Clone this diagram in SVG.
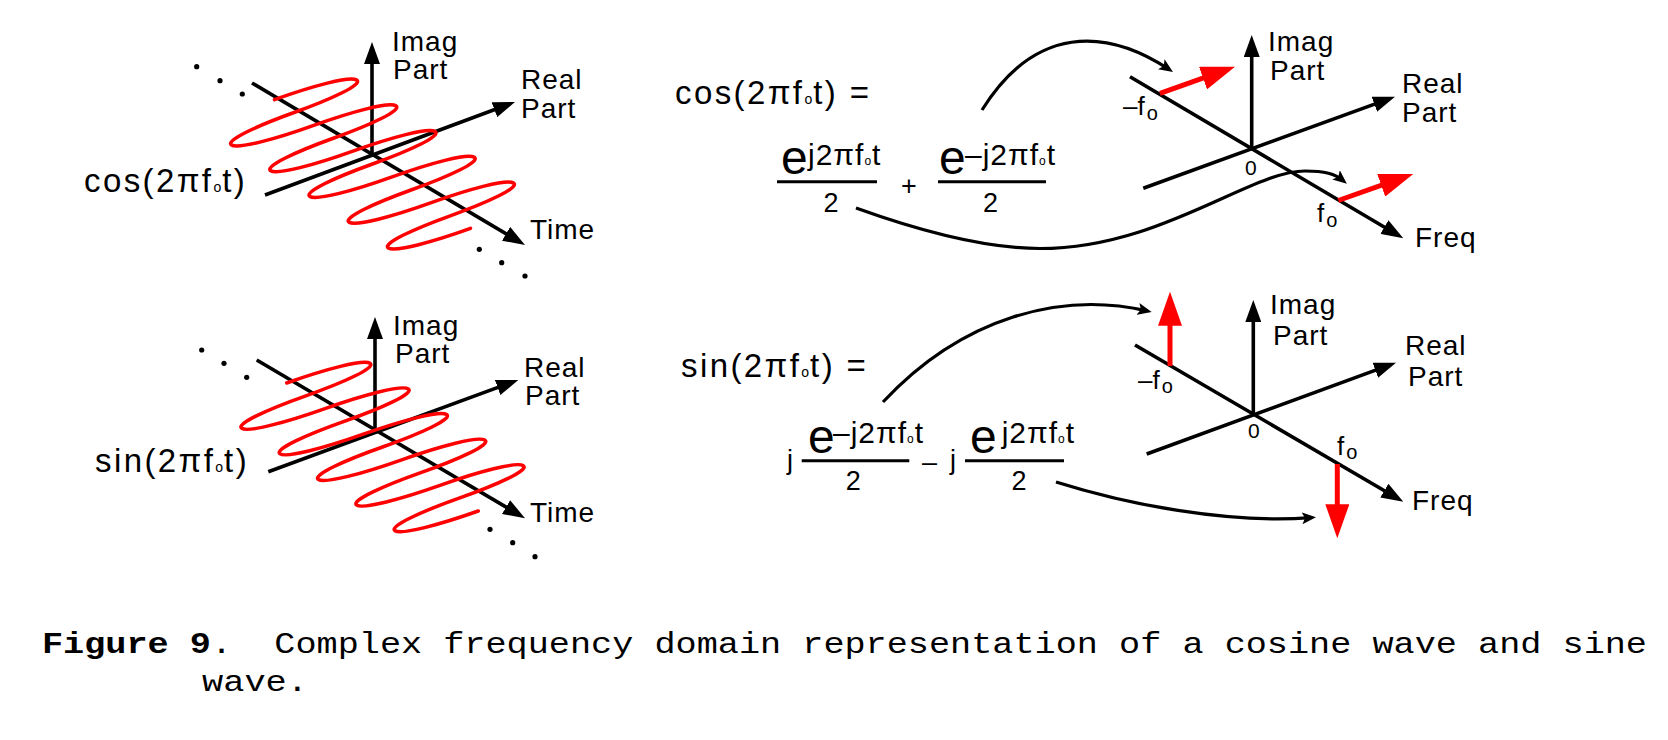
<svg xmlns="http://www.w3.org/2000/svg" width="1668" height="740" viewBox="0 0 1668 740">
<style>
text { font-family: "Liberation Sans", Arial, sans-serif; fill: #000; }
.lbl { font-size: 28px; letter-spacing: 1px; }
.eq { font-size: 33px; letter-spacing: 2.4px; }
.esub { font-size: 14px; letter-spacing: 1px; }
.big { font-size: 48px; }
.sup { font-size: 30px; letter-spacing: 1px; }
.ssub { font-size: 12px; }
.den { font-size: 27px; }
.pm { font-size: 27px; }
.fl { font-size: 26px; }
.fs { font-size: 20px; }
.zero { font-size: 21px; }
.cap { font-family: "Liberation Mono", "Courier New", monospace; font-size: 30px; }
.axis { stroke: #000; stroke-width: 3.6; fill: none; marker-end: url(#ah); }
.red { stroke: #f00; stroke-width: 5; fill: none; marker-end: url(#rh); }
.wave { stroke: #f00; stroke-width: 3.5; fill: none; stroke-linejoin: round; stroke-linecap: round; }
.conn { stroke: #000; stroke-width: 3.2; fill: none; marker-end: url(#ch); }
.bar { stroke: #000; stroke-width: 3; }
.dot { fill: #000; }
</style>
<defs>
<marker id="ah" viewBox="0 0 22 16" refX="12" refY="8" markerWidth="22" markerHeight="16" markerUnits="userSpaceOnUse" orient="auto"><path d="M0,0 L22,8 L0,16 z" fill="#000"/></marker>
<marker id="rh" viewBox="0 0 34 24" refX="14" refY="12" markerWidth="34" markerHeight="24" markerUnits="userSpaceOnUse" orient="auto"><path d="M0,0 L34,12 L0,24 z" fill="#f00"/></marker>
<marker id="ch" viewBox="0 0 14 12" refX="9" refY="6" markerWidth="14" markerHeight="12" markerUnits="userSpaceOnUse" orient="auto"><path d="M0,0 L14,6 L0,12 L3,6 z" fill="#000"/></marker>
</defs>

<g id="cos-time">
<line class="axis" x1="372" y1="153" x2="372" y2="52"/>
<line class="axis" x1="252" y1="83" x2="516.4" y2="239.9"/>
<line class="axis" x1="265" y1="195" x2="505.6" y2="105.5"/>
<path class="wave" d="M274.5,99.61
c37.91,-13.64 75.67,-23.9 82.2,-19.61 c6.534,4.291 -24.69,18.85 -62.6,32.49 c-37.91,13.64 -69.13,28.2 -62.6,32.49 c6.534,4.291 44.29,-5.973 82.2,-19.61
c37.91,-13.64 75.67,-23.9 82.2,-19.61 c6.534,4.291 -24.69,18.85 -62.6,32.49 c-37.91,13.64 -69.13,28.2 -62.6,32.49 c6.534,4.291 44.29,-5.973 82.2,-19.61
c37.91,-13.64 75.67,-23.9 82.2,-19.61 c6.534,4.291 -24.69,18.85 -62.6,32.49 c-37.91,13.64 -69.13,28.2 -62.6,32.49 c6.534,4.291 44.29,-5.973 82.2,-19.61
c37.91,-13.64 75.67,-23.9 82.2,-19.61 c6.534,4.291 -24.69,18.85 -62.6,32.49 c-37.91,13.64 -69.13,28.2 -62.6,32.49 c6.534,4.291 44.29,-5.973 82.2,-19.61
c37.91,-13.64 75.67,-23.9 82.2,-19.61 c6.534,4.291 -24.69,18.85 -62.6,32.49 c-37.91,13.64 -69.13,28.2 -62.6,32.49 c6.534,4.291 44.29,-5.973 82.2,-19.61"/>
<circle class="dot" cx="196.7" cy="66.7" r="2.6"/>
<circle class="dot" cx="220" cy="80.7" r="2.6"/>
<circle class="dot" cx="242.3" cy="94" r="2.6"/>
<circle class="dot" cx="479.3" cy="249.3" r="2.6"/>
<circle class="dot" cx="501.7" cy="262.7" r="2.6"/>
<circle class="dot" cx="525" cy="276" r="2.6"/>
<text class="lbl" x="392" y="51">Imag</text>
<text class="lbl" x="393" y="79">Part</text>
<text class="lbl" x="521" y="89">Real</text>
<text class="lbl" x="521" y="118">Part</text>
<text class="lbl" x="530" y="239">Time</text>
<text class="eq" x="84" y="192">cos(2πf<tspan class="esub">o</tspan>t)</text>
</g>

<g id="sin-time">
<line class="axis" x1="375" y1="432" x2="375" y2="327"/>
<line class="axis" x1="256.7" y1="360" x2="516.4" y2="513.2"/>
<line class="axis" x1="268.3" y1="471.7" x2="508.9" y2="383.4"/>
<path class="wave" d="M286.7,383
c38.59,-13.67 76.89,-23.97 83.28,-19.7 c6.384,4.266 -25.53,18.83 -64.12,32.5 c-38.59,13.67 -70.51,28.23 -64.12,32.5 c6.384,4.266 44.69,-6.031 83.28,-19.7
c38.59,-13.67 76.89,-23.97 83.28,-19.7 c6.384,4.266 -25.53,18.83 -64.12,32.5 c-38.59,13.67 -70.51,28.23 -64.12,32.5 c6.384,4.266 44.69,-6.031 83.28,-19.7
c38.59,-13.67 76.89,-23.97 83.28,-19.7 c6.384,4.266 -25.53,18.83 -64.12,32.5 c-38.59,13.67 -70.51,28.23 -64.12,32.5 c6.384,4.266 44.69,-6.031 83.28,-19.7
c38.59,-13.67 76.89,-23.97 83.28,-19.7 c6.384,4.266 -25.53,18.83 -64.12,32.5 c-38.59,13.67 -70.51,28.23 -64.12,32.5 c6.384,4.266 44.69,-6.031 83.28,-19.7
c38.59,-13.67 76.89,-23.97 83.28,-19.7 c6.384,4.266 -25.53,18.83 -64.12,32.5 c-38.59,13.67 -70.51,28.23 -64.12,32.5 c6.384,4.266 44.69,-6.031 83.28,-19.7"/>
<circle class="dot" cx="201.7" cy="350" r="2.6"/>
<circle class="dot" cx="224" cy="363.3" r="2.6"/>
<circle class="dot" cx="246.7" cy="377.3" r="2.6"/>
<circle class="dot" cx="490" cy="529.3" r="2.6"/>
<circle class="dot" cx="512.7" cy="542.7" r="2.6"/>
<circle class="dot" cx="535" cy="556.7" r="2.6"/>
<text class="lbl" x="393" y="335">Imag</text>
<text class="lbl" x="395" y="363">Part</text>
<text class="lbl" x="524" y="377">Real</text>
<text class="lbl" x="525" y="405">Part</text>
<text class="lbl" x="530" y="522">Time</text>
<text class="eq" x="95" y="472">sin(2πf<tspan class="esub">o</tspan>t)</text>
</g>

<g id="cos-eq">
<text class="eq" x="675" y="104">cos(2πf<tspan class="esub">o</tspan>t) =</text>
<text class="big" x="781" y="174">e</text>
<text class="sup" x="808" y="165">j2πf<tspan class="ssub">o</tspan>t</text>
<line class="bar" x1="777" y1="181.7" x2="877" y2="181.7"/>
<text class="den" x="831" y="211.5" text-anchor="middle">2</text>
<text class="pm" x="909" y="195" text-anchor="middle">+</text>
<text class="big" x="939" y="174">e</text>
<text class="sup" x="965" y="165">–j2πf<tspan class="ssub">o</tspan>t</text>
<line class="bar" x1="938" y1="181.7" x2="1046" y2="181.7"/>
<text class="den" x="990.5" y="211.5" text-anchor="middle">2</text>
</g>

<g id="sin-eq">
<text class="eq" x="681" y="377">sin(2πf<tspan class="esub">o</tspan>t) =</text>
<text class="pm" x="787" y="469">j</text>
<text class="big" x="808" y="452.7">e</text>
<text class="sup" x="833" y="443">–j2πf<tspan class="ssub">o</tspan>t</text>
<line class="bar" x1="801.7" y1="460.7" x2="909.3" y2="460.7"/>
<text class="den" x="853.3" y="490" text-anchor="middle">2</text>
<text class="pm" x="922" y="471">–</text>
<text class="pm" x="950" y="469">j</text>
<text class="big" x="970" y="452.7">e</text>
<text class="sup" x="1001.7" y="443">j2πf<tspan class="ssub">o</tspan>t</text>
<line class="bar" x1="965" y1="460.7" x2="1064" y2="460.7"/>
<text class="den" x="1019" y="490" text-anchor="middle">2</text>
</g>

<g id="cos-freq">
<line class="axis" x1="1251.7" y1="148.3" x2="1251.7" y2="45"/>
<line class="axis" x1="1130" y1="76.7" x2="1394.7" y2="233.2"/>
<line class="axis" x1="1143.3" y1="188.3" x2="1385.6" y2="100.1"/>
<line class="red" x1="1160" y1="93.3" x2="1216.2" y2="73.4"/>
<line class="red" x1="1338.3" y1="200.5" x2="1394.4" y2="180.6"/>
<text class="lbl" x="1268" y="51">Imag</text>
<text class="lbl" x="1270" y="80">Part</text>
<text class="lbl" x="1402" y="93">Real</text>
<text class="lbl" x="1402" y="122">Part</text>
<text class="lbl" x="1415" y="247">Freq</text>
<text class="zero" x="1245" y="175">0</text>
<text class="fl" x="1123" y="115">–f<tspan class="fs" dx="2" dy="5">o</tspan></text>
<text class="fl" x="1317" y="222">f<tspan class="fs" dx="2" dy="5">o</tspan></text>
</g>

<g id="sin-freq">
<line class="axis" x1="1253.3" y1="415" x2="1253.3" y2="310"/>
<line class="axis" x1="1135" y1="345" x2="1394.7" y2="496.7"/>
<line class="axis" x1="1146.7" y1="454" x2="1386.6" y2="366.1"/>
<line class="red" x1="1170" y1="366" x2="1170" y2="311.7"/>
<line class="red" x1="1337.3" y1="464" x2="1337.3" y2="518.3"/>
<text class="lbl" x="1270" y="314">Imag</text>
<text class="lbl" x="1273" y="345">Part</text>
<text class="lbl" x="1405" y="355">Real</text>
<text class="lbl" x="1408" y="386">Part</text>
<text class="lbl" x="1412" y="510">Freq</text>
<text class="zero" x="1248" y="438">0</text>
<text class="fl" x="1138" y="389">–f<tspan class="fs" dx="2" dy="4">o</tspan></text>
<text class="fl" x="1337" y="455">f<tspan class="fs" dx="2" dy="4">o</tspan></text>
</g>

<g id="connectors">
<path class="conn" d="M982,110 C1035,25 1105.8,28 1168.8,69.2"/>
<path class="conn" d="M856,208 C906,226 980,248.5 1040,248.5 C1160,248.5 1250,171 1305,171 C1325,171 1335,174 1343,180.5"/>
<path class="conn" d="M883,402 C963,316.4 1062,291.3 1146.8,310.9"/>
<path class="conn" d="M1056,482 C1126,504 1226,524 1311,517.6"/>
</g>

<g id="caption">
<text class="cap" x="42" y="653" xml:space="preserve" textLength="1605" lengthAdjust="spacingAndGlyphs"><tspan font-weight="bold">Figure 9</tspan>.  Complex frequency domain representation of a cosine wave and sine</text>
<text class="cap" x="202" y="691" textLength="106" lengthAdjust="spacingAndGlyphs">wave.</text>
</g>
</svg>
